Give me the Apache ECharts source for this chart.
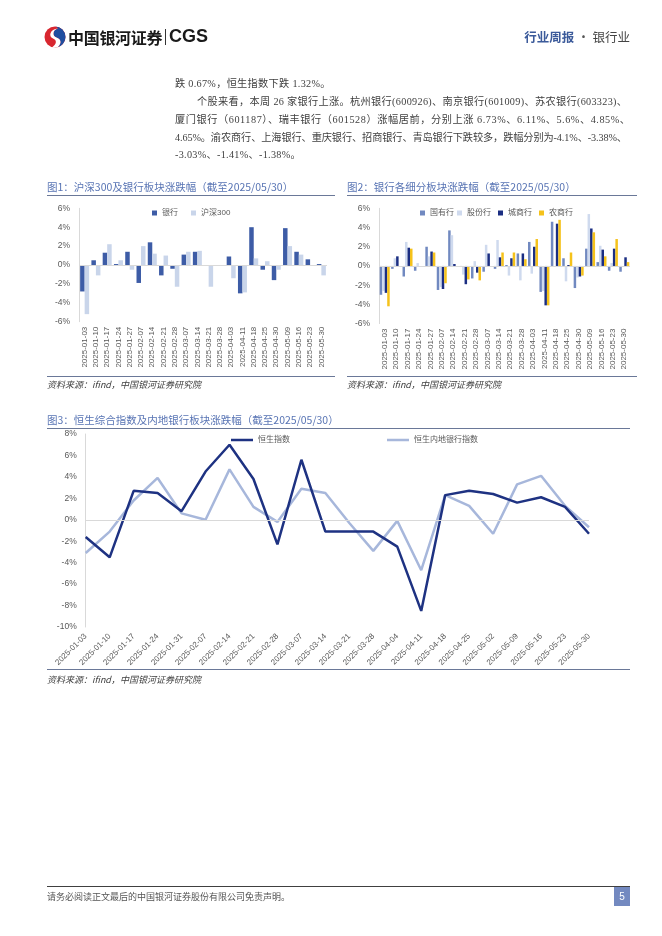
<!DOCTYPE html>
<html><head><meta charset="utf-8">
<script src="https://cdn.jsdelivr.net/npm/echarts@6/dist/echarts.min.js"></script>
<style>
body{margin:0;background:#fff;}
#page{position:relative;width:662px;height:936px;overflow:hidden;background:#fff;}
#chart{position:absolute;left:0;top:0;width:662px;height:936px;}
.t{position:absolute;white-space:nowrap;font-family:'Liberation Serif','Noto Sans CJK SC',serif;}
.p{position:absolute;white-space:nowrap;font-family:'Liberation Serif','Noto Sans CJK SC',serif;font-size:10.2px;color:#404040;line-height:14px;}
.ft{position:absolute;font-family:'Noto Sans CJK SC',sans-serif;font-size:10.5px;color:#5874b4;white-space:nowrap;line-height:14px;}
.src{position:absolute;font-family:'Noto Sans CJK SC',sans-serif;font-size:9px;color:#404040;font-style:italic;white-space:nowrap;line-height:12px;}
.hl{position:absolute;height:1.3px;background:#6a7898;}
</style></head>
<body><div id="page">
<div id="chart"></div>

<svg width="22" height="22" viewBox="0 0 22 22" style="position:absolute;left:44px;top:26px">
<circle cx="11" cy="11" r="10.5" fill="#d8262f"/>
<path d="M11 0.5 A10.5 10.5 0 0 1 21.5 11 A10.5 10.5 0 0 1 14 21 C18 17 17 13 12.5 11.5 C8 10 8.5 4 14 2.5 C13 1 12 0.6 11 0.5Z" fill="#1f4ea0"/>
<path d="M14 2.5 C8.5 4 8 10 12.5 11.5 C17 13 18 17 14 21 C11 22 9 21.8 8 21.4 C13 18 13 14 9 12.5 C4 10.5 6 3 14 2.5Z" fill="#fff"/>
</svg>
<div class="t" style="left:68px;top:26px;font-family:'Noto Sans CJK SC',sans-serif;font-weight:700;font-size:16px;line-height:22px;color:#1a1a1a;letter-spacing:-0.3px">中国银河证券</div>
<div style="position:absolute;left:165px;top:29px;width:1px;height:16px;background:#333"></div>
<div class="t" style="left:169px;top:25px;font-family:'Liberation Sans',sans-serif;font-weight:700;font-size:18px;line-height:22px;color:#1a1a1a">CGS</div>
<div class="t" style="right:32px;top:29px;font-family:'Noto Sans CJK SC',sans-serif;font-size:12.5px;line-height:16px;"><span style="color:#3b5a9a;font-weight:700">行业周报</span><span style="color:#555"> · </span><span style="color:#444">银行业</span></div>

<div class="p" style="left:175px;top:77px;letter-spacing:0.3px">跌 0.67%，恒生指数下跌 1.32%。</div>
<div class="p j" data-w="430" style="left:197px;top:95px">个股来看，本周 26 家银行上涨。杭州银行(600926)、南京银行(601009)、苏农银行(603323)、</div>
<div class="p j" data-w="455" style="left:175px;top:113px">厦门银行（601187）、瑞丰银行（601528）涨幅居前，分别上涨 6.73%、6.11%、5.6%、4.85%、</div>
<div class="p j" data-w="452" style="left:175px;top:131px">4.65%。渝农商行、上海银行、重庆银行、招商银行、青岛银行下跌较多，跌幅分别为-4.1%、-3.38%、</div>
<div class="p" style="left:175px;top:148px;letter-spacing:0.3px">-3.03%、-1.41%、-1.38%。</div>

<div class="ft" style="left:47px;top:180px">图1：沪深300及银行板块涨跌幅（截至2025/05/30）</div>
<div class="hl" style="left:47px;top:195px;width:288px"></div>
<div class="hl" style="left:47px;top:376px;width:288px"></div>
<div class="src" style="left:47px;top:379px">资料来源：ifind，中国银河证券研究院</div>

<div class="ft" style="left:347px;top:180px">图2：银行各细分板块涨跌幅（截至2025/05/30）</div>
<div class="hl" style="left:347px;top:195px;width:290px"></div>
<div class="hl" style="left:347px;top:376px;width:290px"></div>
<div class="src" style="left:347px;top:379px">资料来源：ifind，中国银河证券研究院</div>

<div class="ft" style="left:47px;top:413px">图3：恒生综合指数及内地银行板块涨跌幅（截至2025/05/30）</div>
<div class="hl" style="left:47px;top:428px;width:583px"></div>
<div class="hl" style="left:47px;top:669px;width:583px"></div>
<div class="src" style="left:47px;top:674px">资料来源：ifind，中国银河证券研究院</div>

<div style="position:absolute;left:47px;top:886px;width:583px;height:1.3px;background:#404040"></div>
<div class="t" style="left:47px;top:890px;font-family:'Noto Sans CJK SC',sans-serif;font-size:9px;line-height:13px;color:#555">请务必阅读正文最后的中国银河证券股份有限公司免责声明。</div>
<div style="position:absolute;left:614px;top:887px;width:16px;height:19px;background:#7389c0;color:#fff;font-family:'Liberation Sans',sans-serif;font-size:10px;line-height:19px;text-align:center">5</div>
</div>
<script>
// ---- Data ----
const weekLabels1 = ['2025-01-03','2025-01-10','2025-01-17','2025-01-24','2025-01-27','2025-02-07','2025-02-14','2025-02-21','2025-02-28','2025-03-07','2025-03-14','2025-03-21','2025-03-28','2025-04-03','2025-04-11','2025-04-18','2025-04-25','2025-04-30','2025-05-09','2025-05-16','2025-05-23','2025-05-30'];
const bankIdx = [-2.8,0.5,1.3,0.1,1.4,-1.9,2.4,-1.1,-0.4,1.1,1.4,-0.1,0,0.9,-3.0,4.0,-0.5,-1.6,3.9,1.4,0.6,0.1];
const csi300 = [-5.2,-1.1,2.2,0.5,-0.5,2.0,1.2,1.0,-2.3,1.4,1.5,-2.3,0,-1.4,-2.9,0.7,0.4,-0.5,2.0,1.1,-0.1,-1.1];

const stateOwned = [-3.0,-0.3,-1.1,-0.5,2.0,-2.5,3.7,-0.1,-1.3,-0.6,-0.3,0.1,1.3,2.5,-2.7,4.6,0.8,-2.3,1.8,0.4,-0.5,-0.6];
const jointStock = [-2.6,0.8,2.5,0.3,1.0,-2.2,3.2,-0.9,0.5,2.2,2.7,-1.0,-1.5,-0.8,-2.6,0,-1.6,-1.2,5.4,2.1,0.3,0];
const cityComm = [-2.8,1.0,1.9,0,1.5,-2.4,0.2,-1.9,-0.7,1.3,0.9,0.8,1.3,2.0,-4.1,4.4,0.1,-1.1,3.9,1.7,1.8,0.9];
const ruralComm = [-4.2,0,1.8,0,1.4,-1.8,0,-1.4,-1.5,0,1.4,1.4,0.7,2.8,-4.1,4.8,1.4,-1.0,3.5,1.0,2.8,0.4];

const weekLabels3 = ['2025-01-03','2025-01-10','2025-01-17','2025-01-24','2025-01-31','2025-02-07','2025-02-14','2025-02-21','2025-02-28','2025-03-07','2025-03-14','2025-03-21','2025-03-28','2025-04-04','2025-04-11','2025-04-18','2025-04-25','2025-05-02','2025-05-09','2025-05-16','2025-05-23','2025-05-30'];
const hsi = [-1.6,-3.5,2.7,2.5,0.8,4.5,7.0,3.8,-2.3,5.6,-1.1,-1.1,-1.1,-2.5,-8.5,2.3,2.7,2.4,1.6,2.1,1.2,-1.3];
const hsMainlandBank = [-3.1,-1.1,1.8,3.9,0.6,0.0,4.7,1.2,-0.2,2.9,2.5,-0.3,-2.9,-0.1,-4.7,2.3,1.3,-1.3,3.3,4.1,1.3,-0.7];

// ---- justify paragraph lines to their target widths ----
document.querySelectorAll('.j').forEach(function(el){
  var target = parseFloat(el.dataset.w);
  el.style.letterSpacing = '0px';
  var w = el.getBoundingClientRect().width;
  var n = Array.from(el.textContent).length;
  if (n > 1) el.style.letterSpacing = ((target - w) / (n - 1)) + 'px';
});

// ---- Chart ----
const FONT = "'Liberation Sans','Noto Sans CJK SC',sans-serif";
const lblColor = '#595959';
const axisGray = '#d9d9d9';
function yAx(gi, min, max){
  return {type:'value', gridIndex:gi, min:min, max:max, interval:2,
    axisLine:{show:true, lineStyle:{color:axisGray}}, axisTick:{show:false}, splitLine:{show:false},
    axisLabel:{formatter:'{value}%', fontSize:8.5, color:lblColor, margin:9, fontFamily:FONT}};
}
function xAx(gi, data, rot, margin, bGap){
  return {type:'category', gridIndex:gi, data:data, boundaryGap:bGap,
    axisLine:{show:false, onZero:false}, axisTick:{show:false}, splitLine:{show:false},
    axisLabel:{rotate:rot, interval:0, fontSize:8, color:lblColor, margin:margin, fontFamily:FONT}};
}
const zeroLine = {silent:true, symbol:'none', label:{show:false}, lineStyle:{color:axisGray, width:1, type:'solid'}, data:[{yAxis:0}]};
function leg(name, left, top, w, h){
  return {data:[name], left:left, top:top, padding:0, itemGap:0, icon:'rect', itemWidth:w, itemHeight:h,
    selectedMode:false, textStyle:{fontSize:8, color:lblColor, fontFamily:FONT}};
}
const chart = echarts.init(document.getElementById('chart'), null, {renderer:'canvas'});
chart.setOption({
  animation:false,
  textStyle:{fontFamily:FONT},
  grid:[
    {left:79, top:208.3, width:248, height:113.4},
    {left:379, top:208.3, width:251, height:115.3},
    {left:85.7, top:434, width:503.3, height:193}
  ],
  xAxis:[ xAx(0, weekLabels1, 90, 5, true), xAx(1, weekLabels1, 90, 5, true), xAx(2, weekLabels3, 45, 8, false) ],
  yAxis:[ yAx(0,-6,6), yAx(1,-6,6), yAx(2,-10,8) ],
  legend:[
    leg('银行', 152, 209, 5, 5),
    leg('沪深300', 191, 209, 5, 5),
    leg('国有行', 420, 209, 5, 5),
    leg('股份行', 457, 209, 5, 5),
    leg('城商行', 498, 209, 5, 5),
    leg('农商行', 539, 209, 5, 5),
    leg('恒生指数', 231, 436, 22, 2.5),
    leg('恒生内地银行指数', 387, 436, 22, 2.5)
  ],
  series:[
    {name:'银行', type:'bar', xAxisIndex:0, yAxisIndex:0, data:bankIdx, color:'#3d5ca6', barWidth:4.5, barGap:'0%', markLine:zeroLine},
    {name:'沪深300', type:'bar', xAxisIndex:0, yAxisIndex:0, data:csi300, color:'#c9d5ea', barWidth:4.5, barGap:'0%'},
    {name:'国有行', type:'bar', xAxisIndex:1, yAxisIndex:1, data:stateOwned, color:'#7189c0', barWidth:2.5, barGap:'0%', markLine:zeroLine},
    {name:'股份行', type:'bar', xAxisIndex:1, yAxisIndex:1, data:jointStock, color:'#cfdaee', barWidth:2.5, barGap:'0%'},
    {name:'城商行', type:'bar', xAxisIndex:1, yAxisIndex:1, data:cityComm, color:'#1b2e82', barWidth:2.5, barGap:'0%'},
    {name:'农商行', type:'bar', xAxisIndex:1, yAxisIndex:1, data:ruralComm, color:'#f5c21b', barWidth:2.5, barGap:'0%'},
    {name:'恒生指数', type:'line', xAxisIndex:2, yAxisIndex:2, data:hsi, color:'#1e3282', symbol:'none', lineStyle:{width:2.5}, z:3, markLine:zeroLine},
    {name:'恒生内地银行指数', type:'line', xAxisIndex:2, yAxisIndex:2, data:hsMainlandBank, color:'#a7b7db', symbol:'none', lineStyle:{width:2.5}, z:2}
  ]
});
</script>
</body></html>
